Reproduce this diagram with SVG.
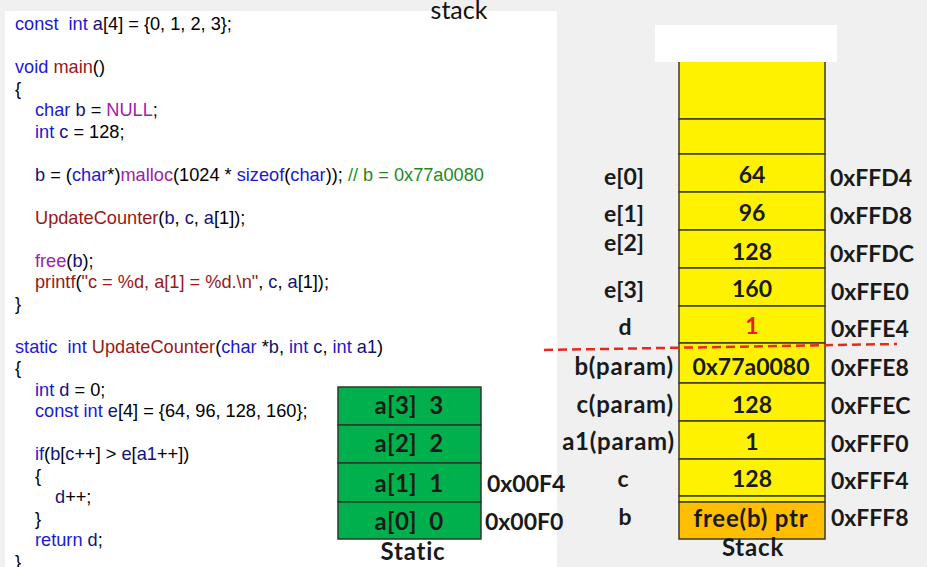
<svg xmlns="http://www.w3.org/2000/svg" width="927" height="567" viewBox="0 0 927 567">
<style>
.code{font-family:"Liberation Sans",Arial,sans-serif;font-size:18.2px;fill:#000;white-space:pre}
.k{fill:#1a1ad0}
.f{fill:#981818}
.p{fill:#a020a8}
.v{fill:#12127a}
.cm{fill:#1e8a1e}
.cell{fill:#fff200;stroke:#3a3a2a;stroke-width:1.5}
.org{fill:#ffbf00;stroke:#3a3a2a;stroke-width:1.5}
.grn{fill:#00b04c;stroke:#2a3a2a;stroke-width:1.5}
.lbl{font-family:Lato,"Open Sans",sans-serif;font-weight:700;font-size:23px;fill:#1a1a1a}
.lw{font-size:24px;letter-spacing:0.8px}
.gt{font-size:24px;letter-spacing:0.3px;white-space:pre}
.mid{text-anchor:middle}
.end{text-anchor:end}
</style>
<rect x="0" y="0" width="927" height="567" fill="#f0f0f0"/>
<rect x="5" y="11" width="552" height="560" fill="#ffffff"/>
<text x="459" y="19" font-family="Lato,'Open Sans',sans-serif" font-size="25" fill="#111" text-anchor="middle">stack</text>

<g id="code" xml:space="preserve">
<text class="code" x="15" y="30"><tspan class="k">const  int</tspan> <tspan class="v">a</tspan>[4] = {0, 1, 2, 3};</text>
<text class="code" x="15" y="73"><tspan class="k">void</tspan> <tspan class="f">main</tspan>()</text>
<text class="code" x="15" y="94.5">{</text>
<text class="code" x="35" y="116"><tspan class="k">char</tspan> <tspan class="v">b</tspan> = <tspan class="p">NULL</tspan>;</text>
<text class="code" x="35" y="137.5"><tspan class="k">int</tspan> <tspan class="v">c</tspan> = 128;</text>
<text class="code" x="35" y="180.5"><tspan class="v">b</tspan> = (<tspan class="k">char</tspan>*)<tspan class="p">malloc</tspan>(1024 * <tspan class="k">sizeof</tspan>(<tspan class="k">char</tspan>)); <tspan class="cm">// b = 0x77a0080</tspan></text>
<text class="code" x="35" y="223.5"><tspan class="f">UpdateCounter</tspan>(<tspan class="v">b</tspan>, <tspan class="v">c</tspan>, <tspan class="v">a</tspan>[1]);</text>
<text class="code" x="35" y="266.5"><tspan class="p">free</tspan>(<tspan class="v">b</tspan>);</text>
<text class="code" x="35" y="288"><tspan class="f">printf</tspan>(<tspan class="f">"c = %d, a[1] = %d.\n"</tspan>, <tspan class="v">c</tspan>, <tspan class="v">a</tspan>[1]);</text>
<text class="code" x="15" y="309.5">}</text>
<text class="code" x="15" y="352.5"><tspan class="k">static  int</tspan> <tspan class="f">UpdateCounter</tspan>(<tspan class="k">char</tspan> *<tspan class="v">b</tspan>, <tspan class="k">int</tspan> <tspan class="v">c</tspan>, <tspan class="k">int</tspan> <tspan class="v">a1</tspan>)</text>
<text class="code" x="15" y="374">{</text>
<text class="code" x="35" y="395.5"><tspan class="k">int</tspan> <tspan class="v">d</tspan> = 0;</text>
<text class="code" x="35" y="417"><tspan class="k">const int</tspan> <tspan class="v">e</tspan>[4] = {64, 96, 128, 160};</text>
<text class="code" x="35" y="460"><tspan class="k">if</tspan>(<tspan class="v">b</tspan>[<tspan class="v">c</tspan>++] &gt; <tspan class="v">e</tspan>[<tspan class="v">a1</tspan>++])</text>
<text class="code" x="35" y="481.5">{</text>
<text class="code" x="55" y="503"><tspan class="v">d</tspan>++;</text>
<text class="code" x="35" y="524.5">}</text>
<text class="code" x="35" y="546"><tspan class="k">return</tspan> <tspan class="v">d</tspan>;</text>
<text class="code" x="15" y="567.5">}</text>
</g>

<g id="static-area">
<g id="a3"><rect class="grn" x="338" y="387" width="143" height="38"/><text class="lbl gt mid" x="409" y="414" xml:space="preserve">a[3]  3</text></g>
<g id="a2"><rect class="grn" x="338" y="425" width="143" height="38"/><text class="lbl gt mid" x="409" y="452" xml:space="preserve">a[2]  2</text></g>
<g id="a1"><rect class="grn" x="338" y="463" width="143" height="39"/><text class="lbl gt mid" x="409" y="492" xml:space="preserve">a[1]  1</text><text class="lbl" x="487" y="492">0x00F4</text></g>
<g id="a0"><rect class="grn" x="338" y="502" width="143" height="37"/><text class="lbl gt mid" x="409" y="530" xml:space="preserve">a[0]  0</text><text class="lbl" x="485" y="530">0x00F0</text></g>
<text class="lbl lw mid" x="413" y="560">Static</text>
</g>

<g id="stack-area">
<g id="free1"><rect class="cell" x="679" y="50" width="146" height="69"/></g>
<g id="free2"><rect class="cell" x="679" y="119" width="146" height="35"/></g>
<rect x="655" y="25" width="182" height="37" fill="#ffffff"/>
<g id="e0"><rect class="cell" x="679" y="154" width="146" height="38"/><text class="lbl mid" x="624" y="185">e[0]</text><text class="lbl mid" x="752" y="183">64</text><text class="lbl" x="830" y="186">0xFFD4</text></g>
<g id="e1"><rect class="cell" x="679" y="192" width="146" height="38"/><text class="lbl mid" x="624" y="222">e[1]</text><text class="lbl mid" x="752" y="221">96</text><text class="lbl" x="830" y="224">0xFFD8</text></g>
<g id="e2"><rect class="cell" x="679" y="230" width="146" height="38"/><text class="lbl mid" x="624" y="251">e[2]</text><text class="lbl mid" x="752" y="260">128</text><text class="lbl" x="830" y="262">0xFFDC</text></g>
<g id="e3"><rect class="cell" x="679" y="268" width="146" height="38"/><text class="lbl mid" x="624" y="298">e[3]</text><text class="lbl mid" x="752" y="297">160</text><text class="lbl" x="831" y="300">0xFFE0</text></g>
<g id="d"><rect class="cell" x="679" y="306" width="146" height="37"/><text class="lbl mid" x="625" y="335">d</text><text class="lbl mid" x="752" y="334" style="fill:#e8201a">1</text><text class="lbl" x="831" y="337">0xFFE4</text></g>
<g id="b-param"><rect class="cell" x="679" y="343" width="146" height="40"/><text class="lbl lw end" x="674" y="375">b(param)</text><text class="lbl mid" x="751" y="375">0x77a0080</text><text class="lbl" x="831" y="376">0xFFE8</text></g>
<g id="c-param"><rect class="cell" x="679" y="383" width="146" height="38"/><text class="lbl lw end" x="674" y="413">c(param)</text><text class="lbl mid" x="752" y="413">128</text><text class="lbl" x="831" y="414">0xFFEC</text></g>
<g id="a1-param"><rect class="cell" x="679" y="421" width="146" height="38"/><text class="lbl lw end" x="675" y="450">a1(param)</text><text class="lbl mid" x="752" y="450">1</text><text class="lbl" x="831" y="452">0xFFF0</text></g>
<g id="c-main"><rect class="cell" x="679" y="459" width="146" height="37"/><text class="lbl mid" x="623" y="487">c</text><text class="lbl mid" x="752" y="487">128</text><text class="lbl" x="831" y="489">0xFFF4</text></g>
<g id="gap"><rect class="cell" x="679" y="496" width="146" height="6"/></g>
<g id="b-main"><rect class="org" x="679" y="502" width="146" height="37"/><text class="lbl mid" x="625" y="525">b</text><text class="lbl lw mid" x="751" y="527">free(b) ptr</text><text class="lbl" x="831" y="526">0xFFF8</text></g>
<text class="lbl lw mid" x="753" y="556">Stack</text>
</g>

<g id="connectors">
<line x1="544" y1="350" x2="897" y2="344" stroke="#e8291c" stroke-width="2.5" stroke-dasharray="9 5"/>
</g>
</svg>
